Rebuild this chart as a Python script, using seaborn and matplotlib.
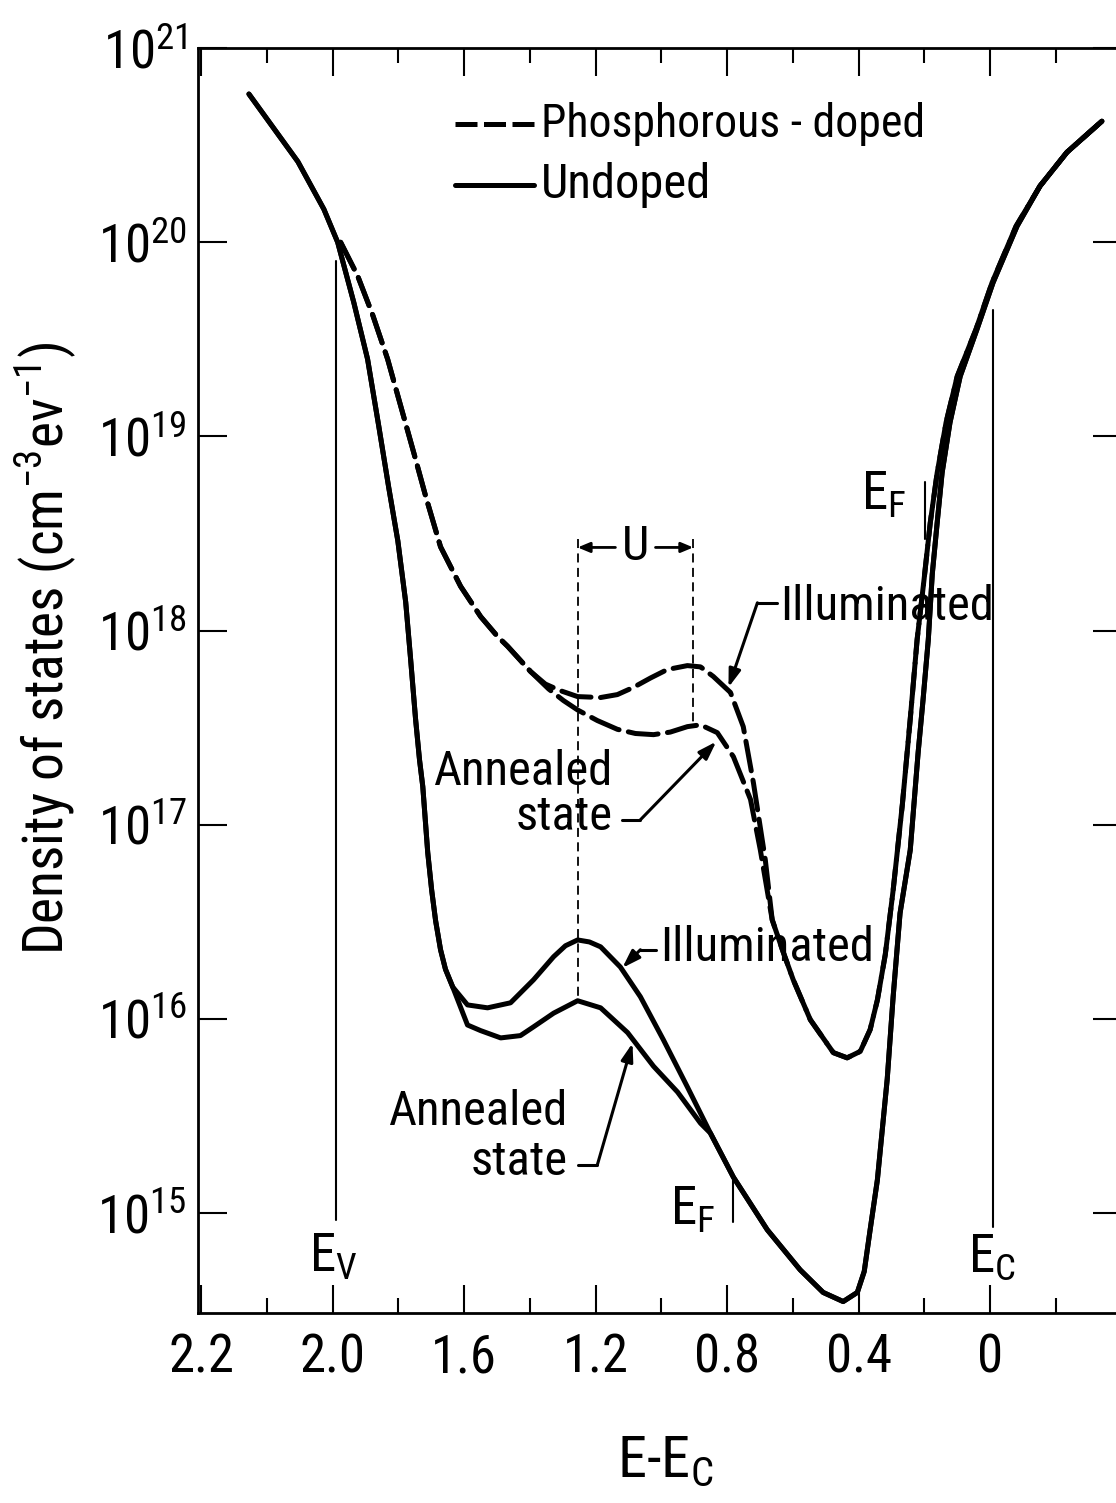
import matplotlib
matplotlib.use("Agg")
import matplotlib.pyplot as plt
from matplotlib import font_manager
from matplotlib.ticker import FixedLocator, NullLocator
import pandas as pd
import seaborn as sns

# ---------------- data: energy below E_C (eV) and density of states (cm^-3 eV^-1)
# undoped a-Si:H, shared valence-band tail
undoped_left_E = [2.255, 2.106, 2.027, 1.985, 1.936, 1.894, 1.860, 1.830, 1.802,
                  1.778, 1.763, 1.748, 1.736, 1.726, 1.711, 1.699, 1.687, 1.672, 1.657, 1.635]
undoped_left_D = [5.8e20, 2.6e20, 1.48e20, 1.0e20, 4.9e19, 2.5e19, 1.13e19, 5.5e18, 2.9e18,
                  1.4e18, 7.1e17, 3.5e17, 2.16e17, 1.57e17, 7.2e16, 4.6e16, 3.2e16, 2.27e16,
                  1.8e16, 1.46e16]
# undoped, illuminated (mid-gap)
undoped_illum_E = [1.590, 1.529, 1.459, 1.389, 1.328, 1.292, 1.255, 1.219, 1.185,
                   1.125, 1.064, 0.994, 0.921]
undoped_illum_D = [1.18e16, 1.14e16, 1.21e16, 1.59e16, 2.09e16, 2.38e16, 2.55e16, 2.49e16, 2.35e16,
                   1.85e16, 1.30e16, 7.8e15, 4.46e15]
# undoped, annealed state (mid-gap)
undoped_anneal_E = [1.590, 1.550, 1.489, 1.429, 1.389, 1.328, 1.255, 1.185, 1.103,
                    1.024, 0.951, 0.881]
undoped_anneal_D = [9.3e15, 8.7e15, 7.98e15, 8.2e15, 9.1e15, 1.07e16, 1.24e16, 1.14e16, 8.5e15,
                    5.7e15, 4.2e15, 2.9e15]
# undoped, shared part towards the conduction band
undoped_right_E = [0.851, 0.781, 0.678, 0.578, 0.508, 0.447, 0.404, 0.383, 0.365, 0.343,
                   0.313, 0.295, 0.274, 0.243, 0.219, 0.204, 0.188, 0.176, 0.161, 0.146,
                   0.122, 0.091, 0.040, -0.009, -0.082, -0.152, -0.234, -0.340]
undoped_right_D = [2.58e15, 1.53e15, 8.2e14, 5.1e14, 3.9e14, 3.5e14, 3.9e14, 5.0e14, 8.2e14, 1.48e15,
                   4.9e15, 1.30e16, 3.5e16, 7.4e16, 2.35e17, 4.4e17, 9.0e17, 1.95e18, 3.6e18, 6.5e18,
                   1.18e19, 2.04e19, 3.56e19, 6.2e19, 1.21e20, 1.95e20, 2.91e20, 4.2e20]

# phosphorous-doped, shared valence-band side
phos_left_E = [1.976, 1.924, 1.878, 1.833, 1.793, 1.754, 1.717, 1.672, 1.611, 1.550,
               1.498, 1.468, 1.398]
phos_left_D = [1.0e20, 6.7e19, 4.2e19, 2.5e19, 1.43e19, 8.3e18, 4.9e18, 2.7e18, 1.69e18, 1.18e18,
               9.3e17, 8.3e17, 6.15e17]
phos_illum_E = [1.353, 1.307, 1.255, 1.185, 1.134, 1.085, 1.033, 0.982, 0.921, 0.881,
                0.842, 0.790, 0.751, 0.720, 0.684]
phos_illum_D = [5.3e17, 4.9e17, 4.57e17, 4.52e17, 4.68e17, 5.1e17, 5.7e17, 6.3e17, 6.6e17, 6.5e17,
                5.8e17, 4.8e17, 3.2e17, 1.64e17, 6.6e16]
phos_anneal_E = [1.343, 1.298, 1.255, 1.195, 1.134, 1.079, 1.024, 0.973, 0.921, 0.881,
                 0.830, 0.781, 0.729, 0.699]
phos_anneal_D = [5.0e17, 4.36e17, 3.9e17, 3.44e17, 3.1e17, 2.95e17, 2.91e17, 3.0e17, 3.2e17, 3.27e17,
                 2.98e17, 2.24e17, 1.35e17, 7.4e16]
phos_right_E = [0.663, 0.632, 0.599, 0.547, 0.477, 0.435, 0.395, 0.365, 0.343, 0.319,
                0.295, 0.267, 0.243, 0.222, 0.201, 0.182, 0.161, 0.134, 0.100, 0.043,
                -0.006, -0.079, -0.152, -0.234, -0.340]
phos_right_D = [3.24e16, 2.27e16, 1.59e16, 9.9e15, 6.7e15, 6.3e15, 6.8e15, 8.8e15, 1.25e16, 2.14e16,
                4.6e16, 1.27e17, 3.5e17, 9.0e17, 1.83e18, 3.6e18, 6.5e18, 1.18e19, 2.04e19, 3.56e19,
                6.2e19, 1.21e20, 1.95e20, 2.91e20, 4.2e20]

# axis ticks
x_major = [2.4, 2.0, 1.6, 1.2, 0.8, 0.4, 0.0]
x_major_labels = ["2.2", "2.0", "1.6", "1.2", "0.8", "0.4", "0"]
x_minor = [2.2, 1.8, 1.4, 1.0, 0.6, 0.2, -0.2]
y_major = [1e15, 1e16, 1e17, 1e18, 1e19, 1e20, 1e21]
y_major_labels = [r"$\mathregular{10^{15}}$", r"$\mathregular{10^{16}}$", r"$\mathregular{10^{17}}$",
                  r"$\mathregular{10^{18}}$", r"$\mathregular{10^{19}}$", r"$\mathregular{10^{20}}$",
                  r"$\mathregular{10^{21}}$"]

# band-edge / Fermi-level / correlation-energy markers
E_V, E_C = 1.99, -0.01
EF_undoped, EF_doped = 0.781, 0.198
U_left, U_right = 1.255, 0.903

# ---------------- style
sns.set_theme(style="white")


def pick_condensed_font():
    """Return (family, stretch) of a narrow sans face if one is installed."""
    fonts = font_manager.fontManager.ttflist
    regular = [f for f in fonts if f.style == "normal" and f.weight in (400, "normal", "regular", "book")]
    for wanted in ("Liberation Sans Narrow", "Noto Sans Condensed", "DejaVu Sans Condensed",
                   "Open Sans Condensed", "Roboto Condensed"):
        if any(f.name == wanted for f in regular):
            return wanted, "normal"
    for base in ("DejaVu Sans", "Noto Sans", "Open Sans", "Roboto"):
        if any(f.name == base and f.stretch in ("condensed", "semi-condensed") for f in regular):
            return base, "condensed"
    return None, None


cond_family, cond_stretch = pick_condensed_font()
if cond_family is not None:
    family = [cond_family, "DejaVu Sans"]
    plt.rcParams["font.stretch"] = cond_stretch
    math_font = cond_family if cond_stretch == "normal" else cond_family + ":stretch=condensed"
    FS, TICK_FS, LAB_FS = 35, 38, 38
else:
    family = ["Liberation Sans", "DejaVu Sans"]
    math_font = "Liberation Sans"
    FS, TICK_FS, LAB_FS = 29, 33, 31

plt.rcParams["font.family"] = family
plt.rcParams["mathtext.fontset"] = "custom"
for key in ("rm", "it", "bf", "sf"):
    plt.rcParams["mathtext." + key] = math_font
for key in ("text.color", "axes.labelcolor", "xtick.color", "ytick.color", "axes.edgecolor"):
    plt.rcParams[key] = "black"

LW = 3.6

fig = plt.figure(figsize=(11.16, 15.03), dpi=100)
ax = fig.add_axes([0.1774, 0.1264, 0.8276, 0.8416])


def curve(parts_E, parts_D):
    E, D = [], []
    for e, d in zip(parts_E, parts_D):
        E += e
        D += d
    return pd.DataFrame({"E": E, "D": D})


undoped_illum = curve([undoped_left_E, undoped_illum_E, undoped_right_E],
                      [undoped_left_D, undoped_illum_D, undoped_right_D])
undoped_anneal = curve([undoped_left_E, undoped_anneal_E, undoped_right_E],
                       [undoped_left_D, undoped_anneal_D, undoped_right_D])
phos_illum = curve([phos_left_E, phos_illum_E, phos_right_E],
                   [phos_left_D, phos_illum_D, phos_right_D])
phos_anneal = curve([phos_left_E, phos_anneal_E, phos_right_E],
                    [phos_left_D, phos_anneal_D, phos_right_D])

dash = (0, (6.0, 1.9))
for df in (undoped_illum, undoped_anneal):
    sns.lineplot(data=df, x="E", y="D", sort=False, estimator=None, ax=ax,
                 color="black", linewidth=LW, solid_capstyle="round", solid_joinstyle="round")
for df in (phos_illum, phos_anneal):
    sns.lineplot(data=df, x="E", y="D", sort=False, estimator=None, ax=ax,
                 color="black", linewidth=LW, linestyle=dash, dash_capstyle="round",
                 dash_joinstyle="round")

ax.set_yscale("log")
ax.set_xlim(2.41, -0.40)
ax.set_ylim(10 ** 14.485, 1e21)

# band edges
ax.plot([E_V, E_V], [8.0e19, 9.2e14], color="black", lw=1.5)
ax.plot([E_C, E_C], [4.5e19, 8.5e14], color="black", lw=1.5)
# Fermi level marks
ax.plot([EF_doped, EF_doped], [5.8e18, 2.95e18], color="black", lw=1.5)
ax.plot([EF_undoped, EF_undoped], [1.51e15, 9.0e14], color="black", lw=1.5)
# correlation energy U
ax.plot([U_left, U_left], [2.95e18, 1.24e16], color="black", lw=1.3, ls=(0, (5, 3)))
ax.plot([U_right, U_right], [2.95e18, 3.27e17], color="black", lw=1.3, ls=(0, (5, 3)))
y_U = 2.68e18
arrow_kw = dict(arrowstyle="-|>,head_length=0.6,head_width=0.25", color="black", lw=2.0,
                shrinkA=0, shrinkB=0)
ax.annotate("", xy=(U_left, y_U), xytext=(1.140, y_U), arrowprops=arrow_kw)
ax.annotate("", xy=(U_right, y_U), xytext=(1.018, y_U), arrowprops=arrow_kw)
ax.text(1.079, y_U, "U", fontsize=FS, ha="center", va="center")

# labelled leaders pointing at the curves
lead_kw = dict(arrowstyle="-|>,head_length=0.9,head_width=0.3", color="black", lw=2.2,
               shrinkA=0, shrinkB=0)
# doped, illuminated
ax.text(0.640, 1.33e18, "Illuminated", fontsize=FS, ha="left", va="center")
ax.plot([0.647, 0.708], [1.39e18, 1.39e18], color="black", lw=2.2)
ax.annotate("", xy=(0.796, 5.1e17), xytext=(0.708, 1.39e18), arrowprops=lead_kw)
# doped, annealed
ax.text(1.149, 1.87e17, "Annealed", fontsize=FS, ha="right", va="center")
ax.text(1.149, 1.10e17, "state", fontsize=FS, ha="right", va="center")
ax.plot([1.119, 1.064], [1.06e17, 1.06e17], color="black", lw=2.2)
ax.annotate("", xy=(0.833, 2.68e17), xytext=(1.064, 1.06e17), arrowprops=lead_kw)
# undoped, illuminated
ax.text(1.003, 2.32e16, "Illuminated", fontsize=FS, ha="left", va="center")
ax.plot([1.064, 1.018], [2.27e16, 2.27e16], color="black", lw=2.2)
ax.annotate("", xy=(1.119, 1.83e16), xytext=(1.064, 2.27e16), arrowprops=lead_kw)
# undoped, annealed
ax.text(1.286, 3.32e15, "Annealed", fontsize=FS, ha="right", va="center")
ax.text(1.286, 1.83e15, "state", fontsize=FS, ha="right", va="center")
ax.plot([1.255, 1.195], [1.77e15, 1.77e15], color="black", lw=2.2)
ax.annotate("", xy=(1.088, 7.5e15), xytext=(1.195, 1.77e15), arrowprops=lead_kw)

# level labels
ax.text(1.997, 5.9e14, r"$\mathregular{E_V}$", fontsize=LAB_FS, ha="center", va="center")
ax.text(-0.006, 5.9e14, r"$\mathregular{E_C}$", fontsize=LAB_FS, ha="center", va="center")
ax.text(0.906, 1.04e15, r"$\mathregular{E_F}$", fontsize=LAB_FS, ha="center", va="center")
ax.text(0.325, 5.0e18, r"$\mathregular{E_F}$", fontsize=LAB_FS, ha="center", va="center")

# legend key
ax.plot([0.278, 0.364], [0.940, 0.940], transform=ax.transAxes, color="black", lw=LW,
        ls=(0, (4.4, 1.3)))
ax.plot([0.278, 0.364], [0.892, 0.892], transform=ax.transAxes, color="black", lw=LW)
ax.text(0.371, 0.940, "Phosphorous - doped", transform=ax.transAxes, fontsize=FS - 2,
        ha="left", va="center")
ax.text(0.371, 0.892, "Undoped", transform=ax.transAxes, fontsize=FS, ha="left", va="center")

# ticks
ax.xaxis.set_major_locator(FixedLocator(x_major))
ax.set_xticklabels(x_major_labels)
ax.xaxis.set_minor_locator(FixedLocator(x_minor))
ax.yaxis.set_major_locator(FixedLocator(y_major))
ax.set_yticklabels(y_major_labels)
ax.yaxis.set_minor_locator(NullLocator())
ax.tick_params(axis="x", which="major", direction="in", top=True, bottom=True,
               length=20, width=1.5, pad=14, labelsize=TICK_FS, colors="black")
ax.tick_params(axis="x", which="minor", direction="in", top=True, bottom=True,
               length=11, width=1.5)
ax.tick_params(axis="y", which="major", direction="in", left=True, right=True,
               length=21, width=1.5, pad=8, labelsize=TICK_FS, colors="black")
for s in ax.spines.values():
    s.set_color("black")
    s.set_linewidth(2.0)
ax.set_xlabel("")
ax.set_ylabel("")

fig.text(45 / 1116, 1 - 648 / 1503, r"Density of states (cm$^{\mathregular{-3}}$ev$^{\mathregular{-1}}$)",
         rotation=90, fontsize=LAB_FS + 2, ha="center", va="center")
fig.text(665 / 1116, 1 - 1462 / 1503, r"E-E$_{\mathregular{C}}$", fontsize=LAB_FS + 4,
         ha="center", va="center")

fig.savefig("out.png", dpi=100, facecolor="white")
